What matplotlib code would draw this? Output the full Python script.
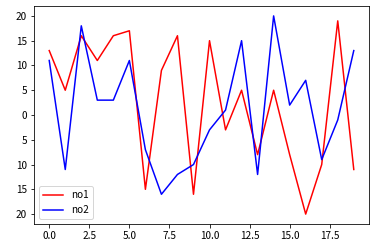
import matplotlib
matplotlib.use("Agg")
import matplotlib.pyplot as plt
from matplotlib.ticker import FuncFormatter

plt.rcParams['font.family'] = ['Noto Sans CJK SC', 'DejaVu Sans']

x = list(range(20))
no1 = [13, 5, 16, 11, 16, 17, -15, 9, 16, -16, 15, -3, 5, -8, 5, -8, -20, -10, 19, -11]
no2 = [11, -11, 18, 3, 3, 11, -7, -16, -12, -10, -3, 1, 15, -12, 20, 2, 7, -9, -1, 13]

fig = plt.figure(figsize=(376 / 72, 246 / 72), dpi=72)
ax = fig.add_axes([34 / 376, 1 - 224 / 246, (369 - 34) / 376, (224 - 6) / 246])

ax.plot(x, no1, color='red', label='no1')
ax.plot(x, no2, color='blue', label='no2')

# the original font had no minus glyph, so negative labels show without sign
ax.yaxis.set_major_formatter(FuncFormatter(lambda v, p: f"{abs(v):g}"))
ax.set_yticks([-20, -15, -10, -5, 0, 5, 10, 15, 20])
ax.set_xticks([0, 2.5, 5, 7.5, 10, 12.5, 15, 17.5])
ax.xaxis.set_major_formatter(FuncFormatter(lambda v, p: f"{v:.1f}"))

ax.legend(loc='lower left')

fig.savefig('out.png', dpi=72)
